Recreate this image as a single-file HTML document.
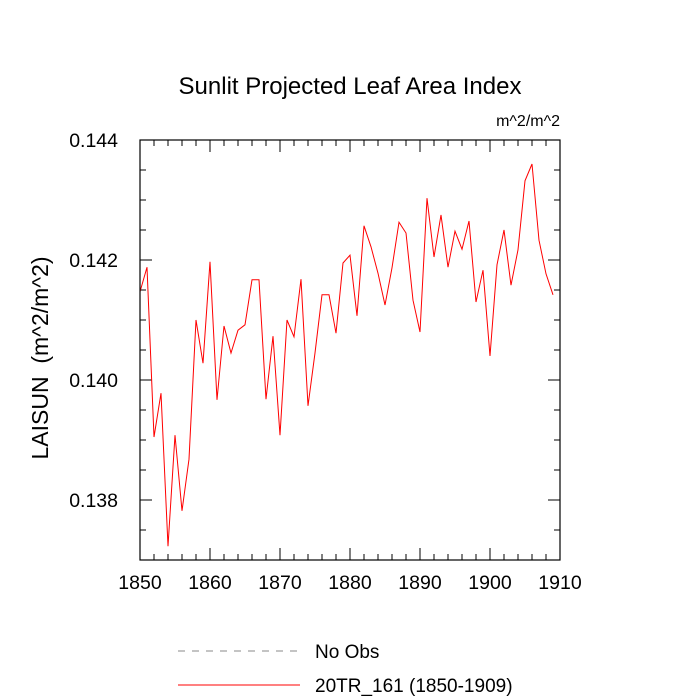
<!DOCTYPE html>
<html><head><meta charset="utf-8"><style>body{margin:0;background:#fff}svg{display:block}text{font-family:"Liberation Sans",sans-serif}</style></head>
<body>
<svg width="700" height="700" viewBox="0 0 700 700">
<text x="350" y="94" font-size="24" text-anchor="middle">Sunlit Projected Leaf Area Index</text>
<text x="560" y="126" font-size="16" text-anchor="end">m^2/m^2</text>
<text transform="translate(48,358) rotate(-90)" font-size="23" text-anchor="middle" xml:space="preserve">LAISUN  (m^2/m^2)</text>
<g id="axes"></g>
<polyline id="series" fill="none" stroke="#ff0000" stroke-width="1"/>
<rect x="140" y="140" width="420" height="420" fill="none" stroke="#000" stroke-width="1.2"/>
<line x1="178" y1="651" x2="300" y2="651" stroke="#888" stroke-dasharray="7,7"/>
<text x="315" y="658" font-size="19">No Obs</text>
<line x1="178" y1="685" x2="300" y2="685" stroke="#ff0000"/>
<text x="315" y="692" font-size="19">20TR_161 (1850-1909)</text>
</svg>
<script>
const years=[];for(let y=1850;y<=1909;y++)years.push(y);
const values=[0.14147,0.14188,0.13905,0.13978,0.13723,0.13908,0.13782,0.13868,0.14100,0.14028,
0.14197,0.13967,0.14090,0.14045,0.14083,0.14092,0.14167,0.14167,0.13968,0.14073,
0.13908,0.14100,0.14072,0.14168,0.13957,0.14045,0.14142,0.14142,0.14078,0.14195,
0.14208,0.14107,0.14257,0.14222,0.14178,0.14125,0.14187,0.14263,0.14245,0.14133,
0.14080,0.14303,0.14205,0.14275,0.14188,0.14248,0.14218,0.14265,0.14130,0.14183,
0.14040,0.14192,0.14250,0.14158,0.14217,0.14332,0.14360,0.14233,0.14177,0.14142];
const xTicks=[1850,1860,1870,1880,1890,1900,1910];
const yTicks=[0.138,0.140,0.142,0.144];
const yTickLabels=["0.138","0.140","0.142","0.144"];
const X0=140,X1=560,Y0=560,Y1=140,xmin=1850,xmax=1910,ymin=0.137,ymax=0.144;
const sx=v=>X0+(v-xmin)/(xmax-xmin)*(X1-X0);
const sy=v=>Y0-(v-ymin)/(ymax-ymin)*(Y0-Y1);
const ns="http://www.w3.org/2000/svg",g=document.getElementById('axes');
function ln(x1,y1,x2,y2,n){const l=document.createElementNS(ns,'line');l.setAttribute('x1',x1);l.setAttribute('y1',y1);l.setAttribute('x2',x2);l.setAttribute('y2',y2);l.setAttribute('stroke','#000');


g.appendChild(l);}
function tx(x,y,s,a,n){const t=document.createElementNS(ns,'text');t.setAttribute('x',x);t.setAttribute('y',y);t.setAttribute('font-size','19.5');t.setAttribute('text-anchor',a);t.textContent=s;


g.appendChild(t);}
for(let v=xmin;v<=xmax;v+=2){const x=sx(v);const L=(v%10===0)?12:6;ln(x,Y0,x,Y0-L,'x-tick');ln(x,Y1,x,Y1+L,'x-tick-top');}
xTicks.forEach(v=>tx(sx(v),589,String(v),'middle','x-tick-label'));
for(let i=0;i<=14;i++){const v=ymin+i*0.0005;const y=sy(v);const major=yTicks.some(t=>Math.abs(t-v)<1e-7);const L=major?12:6;ln(X0,y,X0+L,y,'y-tick');ln(X1,y,X1-L,y,'y-tick-right');}
yTicks.forEach((v,i)=>tx(118,sy(v)+7,yTickLabels[i],'end','y-tick-label'));
document.getElementById('series').setAttribute('points',years.map((y,i)=>sx(y)+','+sy(values[i])).join(' '));
</script>
</body></html>
